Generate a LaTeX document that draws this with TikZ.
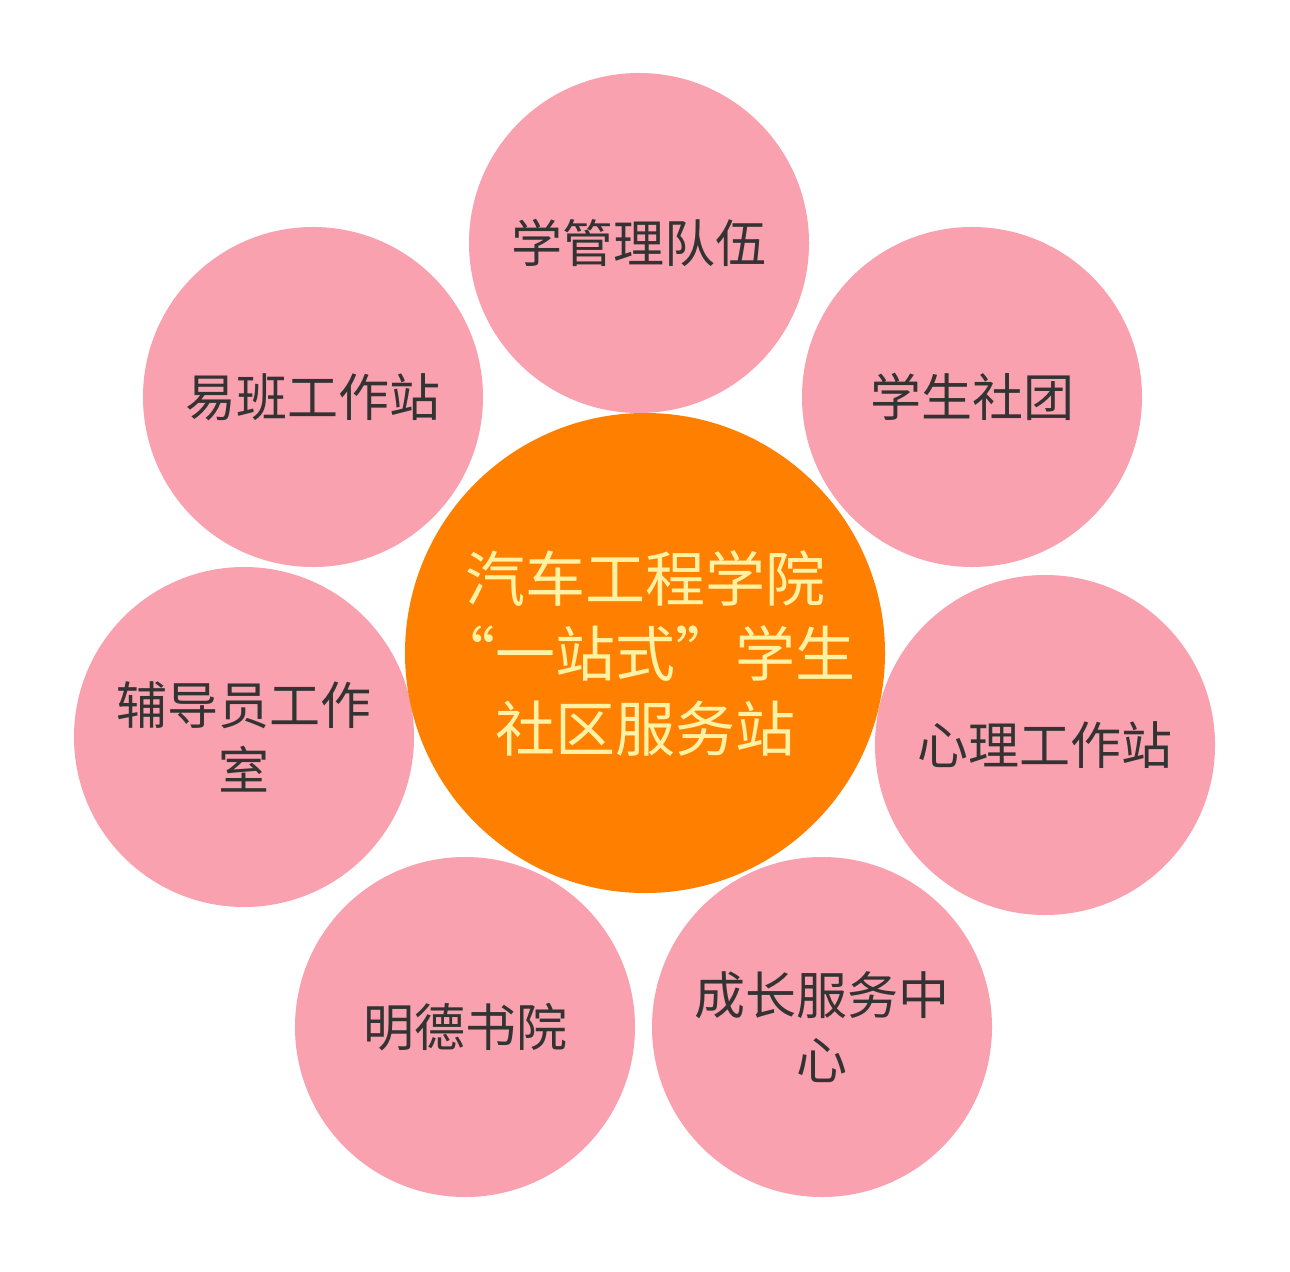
\documentclass[tikz,border=0pt]{standalone}
\usepackage{fontspec}
\newfontfamily\cjk{Noto Sans CJK SC}
\definecolor{petal}{RGB}{250,161,175}
\definecolor{core}{RGB}{255,128,0}
\definecolor{coretext}{RGB}{255,242,165}
\definecolor{petaltext}{RGB}{51,51,51}
\begin{document}
\begin{tikzpicture}[x=0.5bp,y=-0.5bp,
  petalnode/.style={circle,fill=petal,draw=none,minimum size=170bp,inner sep=0pt,align=center,
    text=petaltext,font=\cjk\fontsize{25.5bp}{32.5bp}\selectfont},
  corenode/.style={circle,fill=core,draw=none,minimum size=240bp,inner sep=0pt,align=center,
    text=coretext,font=\cjk\fontsize{30bp}{37.5bp}\selectfont}]
\useasboundingbox (0,0) rectangle (1290,1272);
\fill[white] (0,0) rectangle (1290,1272);
\node[petalnode] (p1) at (639,243) {学管理队伍};
\node[petalnode] (p2) at (972,397) {学生社团};
\node[petalnode] (p3) at (1045,745) {心理工作站};
\node[petalnode] (p4) at (822,1027) {成长服务中\\心};
\node[petalnode] (p5) at (465,1027) {明德书院};
\node[petalnode] (p6) at (244,737) {辅导员工作\\室};
\node[petalnode] (p7) at (313,397) {易班工作站};
\node[corenode] (c) at (645,653) {汽车工程学院\\“一站式”学生\\社区服务站};
\end{tikzpicture}
\end{document}
